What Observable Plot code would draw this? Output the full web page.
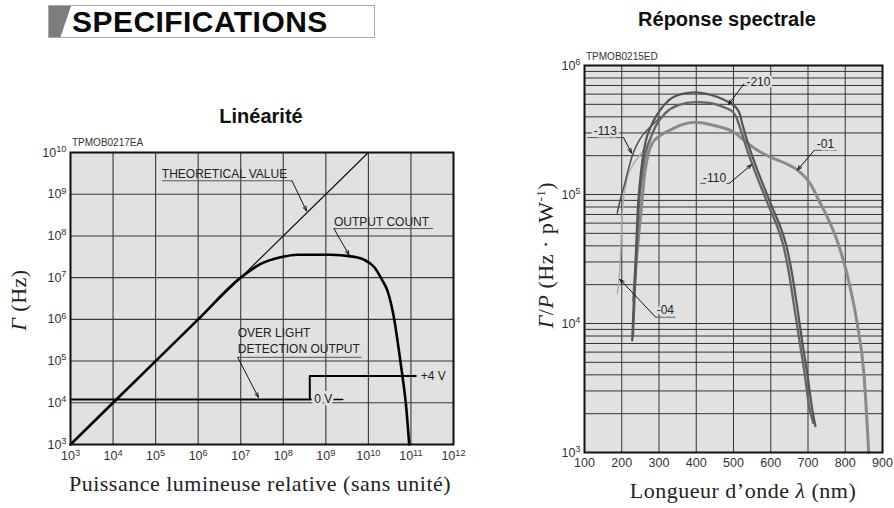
<!DOCTYPE html>
<html>
<head>
<meta charset="utf-8">
<script src="https://cdn.jsdelivr.net/npm/d3@7"></script>
<script src="https://cdn.jsdelivr.net/npm/@observablehq/plot@0.6"></script>
<style>
  body { margin: 0; background: #fff; }
  #wrap { position: relative; width: 894px; height: 508px; overflow: hidden; background: #fff;
          font-family: "Liberation Sans", Arial, sans-serif; color: #111; }
  .abs { position: absolute; white-space: nowrap; }
  .ttl { font-weight: bold; font-size: 20px; line-height: 20px; transform: translateX(-50%); }
  .serif { font-family: "Liberation Serif", "Times New Roman", serif; font-size: 22px; line-height: 22px; color: #222; letter-spacing: 0.5px; }
  .code { font-size: 10px; line-height: 10px; color: #333; }
  .plot { position: absolute; }
  sup { font-size: 13px; vertical-align: 0; position: relative; top: -8px; }
</style>
</head>
<body>
<div id="wrap">
  <div class="abs" id="specbox" style="left:48px;top:5px;width:325px;height:31px;border:1px solid #a8a8a8;">
    <svg width="26" height="31" style="position:absolute;left:0;top:0"><polygon points="0,0 22,0 11.5,31 0,31" fill="#7d7d7d"/></svg>
    <span class="abs" style="left:23px;top:1px;font-size:30px;line-height:30px;font-weight:bold;color:#0a0a0a;letter-spacing:0.45px">SPECIFICATIONS</span>
  </div>
  <div class="abs ttl" style="left:261px;top:106px">Linéarité</div>
  <div class="abs ttl" style="left:727px;top:9px">Réponse spectrale</div>
  <div class="abs code" style="left:72px;top:138px">TPMOB0217EA</div>
  <div class="abs code" style="left:586px;top:52px">TPMOB0215ED</div>
  <div class="abs serif" style="left:260px;top:473px;transform:translateX(-50%)">Puissance lumineuse relative (sans unité)</div>
  <div class="abs serif" style="left:743px;top:480px;transform:translateX(-50%)">Longueur d’onde <i>λ</i> (nm)</div>
  <div class="abs serif" style="left:19px;top:300px;transform:translate(-50%,-50%) rotate(-90deg)"><i>Γ</i> (Hz)</div>
  <div class="abs serif" style="left:547px;top:255px;transform:translate(-50%,-50%) rotate(-90deg)"><i>Γ</i>/<i>P</i> (Hz · pW<sup>-1</sup>)</div>
  <div class="plot" id="left" style="left:0px;top:130px"></div>
  <div class="plot" id="right" style="left:520px;top:40px"></div>
</div>
<script>
// ---------------- Linéarité (left chart) ----------------
const linXTicks = [1e3, 1e4, 1e5, 1e6, 1e7, 1e8, 1e9, 1e10, 1e11, 1e12];
const linXLabels = ["10^3", "10^4", "10^5", "10^6", "10^7", "10^8", "10^9", "10^10", "10^11", "10^12"];
const linYTicks = [1e3, 1e4, 1e5, 1e6, 1e7, 1e8, 1e9, 1e10];
const linYLabels = ["10^3", "10^4", "10^5", "10^6", "10^7", "10^8", "10^9", "10^10"];

const theoreticalX = [1e3, 1e10];
const theoreticalY = [1e3, 1e10];

const outputX = [1e3, 1e4, 1e5, 1e6, 1e7, 2.95e7, 8.7e7, 2.14e8, 1.32e9, 3.89e9, 7.9e9, 1.38e10, 2.14e10, 2.8e10, 4.1e10, 5.1e10, 6.2e10, 7.6e10, 9.1e10];
const outputY = [1e3, 1e4, 1e5, 1e6, 1e7, 2.14e7, 3.09e7, 3.55e7, 3.55e7, 3.24e7, 2.69e7, 1.78e7, 8.5e6, 4.9e6, 9.3e5, 2.1e5, 5.0e4, 9.5e3, 1e3];

const overX = [1e3, 4.2e8, 4.2e8, 1.3e11];
const overY = [1.2e4, 1.2e4, 4.4e4, 4.4e4];
const zeroTailX = [4.2e8, 2.5e9];
const zeroTailY = [1.2e4, 1.2e4];

const linNoteText = ["THEORETICAL VALUE", "OUTPUT COUNT", "OVER LIGHT", "DETECTION OUTPUT"];
const linNoteX = [1.4e5, 1.55e9, 8.5e6, 8.5e6];
const linNoteY = [2.95e9, 2.1e8, 4.6e5, 1.9e5];
const linUnderX1 = [1.4e5, 1.55e9, 8.5e6];
const linUnderX2 = [1.6e8, 3.3e11, 6.9e9];
const linUnderY = [2.1e9, 1.5e8, 1.23e5];
const linLeadX1 = [1.6e8, 1.55e9, 8.5e6];
const linLeadY1 = [2.1e9, 1.5e8, 1.23e5];
const linLeadX2 = [3.5e8, 3.5e9, 2.6e7];
const linLeadY2 = [4.0e8, 3.5e7, 1.35e4];
const zeroText = ["0 V"], zeroX = [8.7e8], zeroY = [1.2e4];
const fourText = ["+4 V"], fourX = [1.7e11], fourY = [4.4e4];

// ---------------- Réponse spectrale (right chart) ----------------
const specXTicks = [100, 200, 300, 400, 500, 600, 700, 800, 900];
const specXLabels = ["100", "200", "300", "400", "500", "600", "700", "800", "900"];
const specYTicks = [1e3, 1e4, 1e5, 1e6];
const specYLabels = ["10^3", "10^4", "10^5", "10^6"];
const specYGrid = [1e3, 2e3, 3e3, 4e3, 5e3, 6e3, 7e3, 8e3, 9e3,
                   1e4, 2e4, 3e4, 4e4, 5e4, 6e4, 7e4, 8e4, 9e4,
                   1e5, 2e5, 3e5, 4e5, 5e5, 6e5, 7e5, 8e5, 9e5, 1e6];

const wl210 = [228, 233, 238, 243, 249, 256, 265, 277, 295, 326, 360, 398, 440, 470, 500, 510, 517, 524, 532, 545, 559, 572, 586, 600, 613, 627, 642, 657, 671, 684, 698, 711, 720];
const val210 = [7.4e3, 1.6e4, 3.5e4, 7.6e4, 1.26e5, 1.9e5, 2.63e5, 3.31e5, 4.17e5, 5.37e5, 6.0e5, 6.2e5, 5.9e5, 5.5e5, 4.9e5, 4.6e5, 4.2e5, 3.5e5, 2.9e5, 2.2e5, 1.7e5, 1.35e5, 1.07e5, 8.5e4, 6.9e4, 5.5e4, 4.0e4, 2.45e4, 1.35e4, 7.4e3, 4.1e3, 2.2e3, 1.6e3];

const wl110 = [230, 235, 240, 245, 252, 260, 270, 282, 291, 317, 350, 398, 440, 470, 497, 507, 513, 519, 524, 537, 551, 564, 578, 592, 605, 619, 634, 649, 663, 677, 691, 704, 714];
const val110 = [7.9e3, 1.8e4, 3.5e4, 7.6e4, 1.26e5, 1.86e5, 2.4e5, 2.95e5, 3.39e5, 4.27e5, 4.9e5, 5.2e5, 5.1e5, 4.8e5, 4.4e5, 4.0e5, 3.6e5, 3.2e5, 2.9e5, 2.2e5, 1.7e5, 1.35e5, 1.07e5, 8.5e4, 6.9e4, 5.5e4, 4.0e4, 2.45e4, 1.35e4, 7.4e3, 4.1e3, 2.2e3, 1.7e3];

const wl01 = [231, 238, 246, 255, 262, 270, 282, 300, 330, 360, 398, 440, 470, 497, 528, 560, 599, 640, 671, 707, 730, 756, 778, 805, 832, 850, 863];
const val01 = [1.5e4, 2.8e4, 5.0e4, 9.3e4, 1.48e5, 2.0e5, 2.5e5, 2.82e5, 3.16e5, 3.47e5, 3.63e5, 3.47e5, 3.3e5, 3.09e5, 2.63e5, 2.24e5, 1.95e5, 1.74e5, 1.55e5, 1.2e5, 8.9e4, 6.3e4, 4.4e4, 2.4e4, 1.0e4, 4.1e3, 1.0e3];

const wl113 = [188, 196, 206, 218, 232, 245, 259, 286, 300];
const val113 = [7.2e4, 9.1e4, 1.15e5, 1.58e5, 2.14e5, 2.57e5, 2.95e5, 3.55e5, 3.9e5];

const wl04 = [188, 192, 197, 201, 208, 219, 237, 255, 270, 285];
const val04 = [1.7e4, 2.1e4, 3.5e4, 7.1e4, 1.07e5, 1.48e5, 1.82e5, 2.14e5, 2.45e5, 2.6e5];

const specNoteText = ["-210", "-01", "-110", "-113", "-04"];
const specNoteX = [567, 747, 449, 156, 317];
const specNoteY = [7.4e5, 2.45e5, 1.35e5, 3.1e5, 1.26e4];
const specUnderX1 = [717, 411, 107, 291];
const specUnderX2 = [776, 489, 205, 344];
const specUnderY = [2.2e5, 1.22e5, 2.76e5, 1.12e4];
const specLeadX1 = [528, 717, 489, 205, 291];
const specLeadY1 = [7.2e5, 2.2e5, 1.22e5, 2.76e5, 1.12e4];
const specLeadX2 = [487, 672, 548, 226, 195];
const specLeadY2 = [5.0e5, 1.55e5, 1.7e5, 2.1e5, 2.2e4];

// ---------------- helpers ----------------
const pts = (xs, ys) => xs.map((x, i) => ({x, y: ys[i]}));
const segs = (x1s, y1s, x2s, y2s) => x1s.map((x1, i) => ({x1, y1: y1s[i], x2: x2s[i], y2: y2s[i]}));
const notes = (ts, xs, ys) => ts.map((t, i) => ({t, x: xs[i], y: ys[i]}));
const labelMap = (ticks, labels) => { const m = new Map(ticks.map((t, i) => [t, labels[i]])); return d => m.get(d); };
const BG = "#e1e1e1";

function superscriptify(svg) {
  svg.querySelectorAll("text").forEach(t => {
    const s = t.textContent;
    const i = s.indexOf("^");
    if (i < 0 || t.children.length) return;
    t.textContent = s.slice(0, i);
    const sp = document.createElementNS("http://www.w3.org/2000/svg", "tspan");
    sp.setAttribute("font-size", "0.74em");
    sp.setAttribute("dy", "-0.5em");
    sp.textContent = s.slice(i + 1);
    t.appendChild(sp);
  });
}

// ---------------- left plot ----------------
const leftPlot = Plot.plot({
  width: 470, height: 344,
  marginLeft: 70, marginRight: 17, marginTop: 22, marginBottom: 30,
  x: {type: "log", domain: [1e3, 1e12]},
  y: {type: "log", domain: [1e3, 1e10]},
  style: {fontFamily: "'Liberation Sans', Arial, sans-serif", fontSize: "12px", color: "#333", background: "transparent", overflow: "visible"},
  marks: [
    Plot.frame({fill: BG}),
    Plot.ruleX(linXTicks, {stroke: "#383838", strokeWidth: 1.1}),
    Plot.ruleY(linYTicks, {stroke: "#383838", strokeWidth: 1.1}),
    Plot.axisX(linXTicks, {tickSize: 0, tickPadding: 7, fontSize: 12.5, fill: "#333", tickFormat: labelMap(linXTicks, linXLabels), label: null}),
    Plot.axisY(linYTicks, {tickSize: 0, tickPadding: 4, fontSize: 12.5, fill: "#333", tickFormat: labelMap(linYTicks, linYLabels), label: null}),
    Plot.line(pts(theoreticalX, theoreticalY), {x: "x", y: "y", stroke: "#111", strokeWidth: 1.2}),
    Plot.line(pts(outputX, outputY), {x: "x", y: "y", stroke: "#000", strokeWidth: 2.6, curve: "monotone-x"}),
    Plot.line(pts(overX, overY), {x: "x", y: "y", stroke: "#000", strokeWidth: 2}),
    Plot.line(pts(zeroTailX, zeroTailY), {x: "x", y: "y", stroke: "#000", strokeWidth: 1.5}),
    Plot.text(notes(zeroText, zeroX, zeroY), {x: "x", y: "y", text: "t", textAnchor: "middle", fill: "#222", fontSize: 12, stroke: BG, strokeWidth: 6, paintOrder: "stroke"}),
    Plot.text(notes(fourText, fourX, fourY), {x: "x", y: "y", text: "t", textAnchor: "start", fill: "#222", fontSize: 12}),
    Plot.link(pts(linUnderX1, linUnderY).map((d, i) => ({...d, x2: linUnderX2[i]})), {x1: "x", x2: "x2", y1: "y", y2: "y", stroke: "#555", strokeWidth: 1}),
    Plot.arrow(segs(linLeadX1, linLeadY1, linLeadX2, linLeadY2), {x1: "x1", y1: "y1", x2: "x2", y2: "y2", stroke: "#111", strokeWidth: 1, headLength: 7, headAngle: 40}),
    Plot.text(notes(linNoteText, linNoteX, linNoteY), {x: "x", y: "y", text: "t", textAnchor: "start", fill: "#222", fontSize: 12}),
    Plot.frame({stroke: "#111", strokeWidth: 2})
  ]
});
superscriptify(leftPlot);
document.getElementById("left").appendChild(leftPlot);

// ---------------- right plot ----------------
const rightPlot = Plot.plot({
  width: 374, height: 440,
  marginLeft: 64, marginRight: 12, marginTop: 25, marginBottom: 28,
  x: {domain: [100, 900]},
  y: {type: "log", domain: [1e3, 1e6]},
  style: {fontFamily: "'Liberation Sans', Arial, sans-serif", fontSize: "12px", color: "#333", background: "transparent", overflow: "visible"},
  marks: [
    Plot.frame({fill: BG}),
    Plot.ruleX(specXTicks, {stroke: "#333", strokeWidth: 1}),
    Plot.ruleY(specYGrid, {stroke: "#333", strokeWidth: 1}),
    Plot.axisX(specXTicks, {tickSize: 0, tickPadding: 6, fontSize: 12.5, fill: "#333", tickFormat: labelMap(specXTicks, specXLabels), label: null}),
    Plot.axisY(specYTicks, {tickSize: 0, tickPadding: 4, fontSize: 12.5, fill: "#333", tickFormat: labelMap(specYTicks, specYLabels), label: null}),
    Plot.line(pts(wl01, val01), {x: "x", y: "y", stroke: "#8a8a8a", strokeWidth: 3, curve: "monotone-x"}),
    Plot.line(pts(wl04, val04), {x: "x", y: "y", stroke: "#ababab", strokeWidth: 1.4, curve: "catmull-rom"}),
    Plot.line(pts(wl113, val113), {x: "x", y: "y", stroke: "#4f4f4f", strokeWidth: 1.5, curve: "catmull-rom"}),
    Plot.line(pts(wl110, val110), {x: "x", y: "y", stroke: "#666", strokeWidth: 2.4, curve: "monotone-x"}),
    Plot.line(pts(wl210, val210), {x: "x", y: "y", stroke: "#555", strokeWidth: 2.2, curve: "monotone-x"}),
    Plot.link(pts(specUnderX1, specUnderY).map((d, i) => ({...d, x2: specUnderX2[i]})), {x1: "x", x2: "x2", y1: "y", y2: "y", stroke: "#555", strokeWidth: 1}),
    Plot.arrow(segs(specLeadX1, specLeadY1, specLeadX2, specLeadY2), {x1: "x1", y1: "y1", x2: "x2", y2: "y2", stroke: "#111", strokeWidth: 1, headLength: 7, headAngle: 40}),
    Plot.text(notes(specNoteText, specNoteX, specNoteY), {x: "x", y: "y", text: "t", fill: "#222", fontSize: 12, stroke: BG, strokeWidth: 5, paintOrder: "stroke"}),
    Plot.frame({stroke: "#111", strokeWidth: 2})
  ]
});
superscriptify(rightPlot);
document.getElementById("right").appendChild(rightPlot);
</script>
</body>
</html>
